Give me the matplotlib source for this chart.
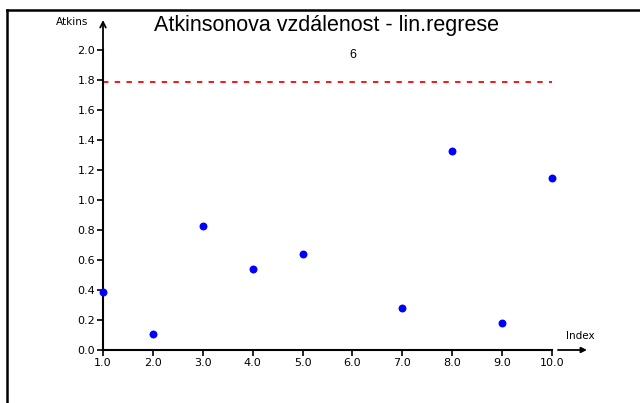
import matplotlib
matplotlib.use("Agg")
import matplotlib.pyplot as plt
from matplotlib.lines import Line2D

# data
index = [1, 2, 3, 4, 5, 7, 8, 9, 10]
atkins = [0.39, 0.11, 0.83, 0.54, 0.64, 0.28, 1.33, 0.18, 1.15]
limit = 1.79
outlier_label = "6"
outlier_x = 6
xticks = [1, 2, 3, 4, 5, 6, 7, 8, 9, 10]
yticks = [0.0, 0.2, 0.4, 0.6, 0.8, 1.0, 1.2, 1.4, 1.6, 1.8, 2.0]

W, H = 640, 403
fig = plt.figure(figsize=(W / 100, H / 100), dpi=100)
plt.rcParams['font.family'] = ['DejaVu Sans']

# axes from x=103..552 px, y=50..350 px
ax = fig.add_axes([103 / W, (H - 350) / H, (552 - 103) / W, 300 / H])
ax.set_xlim(1, 10)
ax.set_ylim(0, 2.0)

ax.scatter(index, atkins, s=22, color='#0000ff', zorder=3, clip_on=False)
ax.plot([1, 10], [limit, limit], color='#ff0000', lw=1.3, dashes=(3, 3.5))
ax.text(outlier_x, 1.97, outlier_label, ha='center', va='center',
        fontsize=9, family='Liberation Sans')

for side in ['top', 'right']:
    ax.spines[side].set_visible(False)
for side in ['left', 'bottom']:
    ax.spines[side].set_linewidth(1.5)

ax.set_xticks(xticks)
ax.set_xticklabels(["%.1f" % v for v in xticks])
ax.set_yticks(yticks)
ax.set_yticklabels(["%.1f" % v for v in yticks])
ax.tick_params(axis='both', direction='out', length=4, width=1.2,
               labelsize=8, pad=1.5)

# y axis arrow
ax.annotate('', xy=(1, 2.2), xytext=(1, 1.99), xycoords='data',
            arrowprops=dict(arrowstyle='->', lw=1.3, color='black',
                            shrinkA=0, shrinkB=0),
            annotation_clip=False)
# separate x arrow right of the axis
ax.annotate('', xy=(10.7, 0), xytext=(10.12, 0), xycoords='data',
            arrowprops=dict(arrowstyle='-|>', lw=1.3, color='black',
                            shrinkA=0, shrinkB=0, mutation_scale=8),
            annotation_clip=False)

fig.text(72 / W, 1 - 22 / H, 'Atkins', ha='center', va='center', fontsize=7.5)
fig.text(580 / W, 1 - 336 / H, 'Index', ha='center', va='center', fontsize=7.5)
fig.text(327 / W, 1 - 26 / H, 'Atkinsonova vzdálenost - lin.regrese',
         ha='center', va='center', fontsize=15.5, family='Liberation Sans')

# outer frame lines (top and left)
fig.add_artist(Line2D([7 / W, 1], [1 - 10 / H, 1 - 10 / H], color='black', lw=1.8))
fig.add_artist(Line2D([7 / W, 7 / W], [0, 1 - 10 / H], color='black', lw=1.8))

fig.savefig('out.png', dpi=100)
